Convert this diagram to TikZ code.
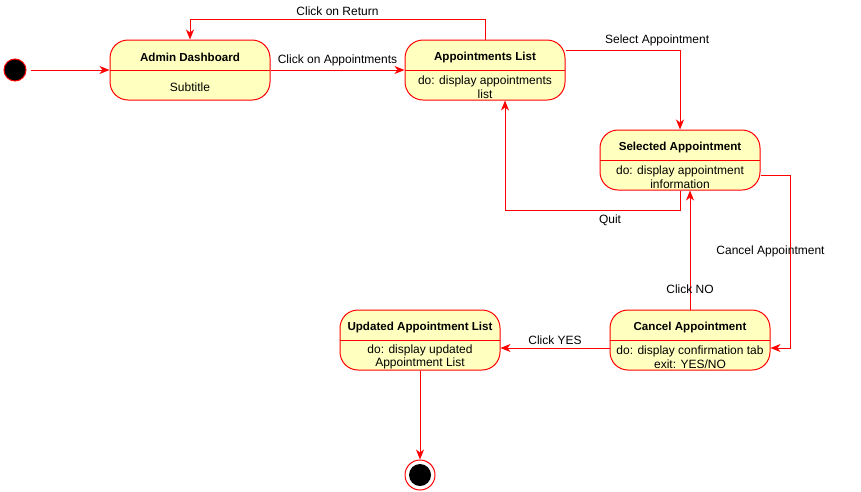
\documentclass[tikz,border=0pt]{standalone}
\usepackage{fontspec}
\setmainfont{Liberation Sans}
\usepackage{tikz}
\usetikzlibrary{arrows.meta}
\usetikzlibrary{positioning}
\definecolor{statefill}{HTML}{FFFFC0}
\definecolor{statered}{HTML}{FF0000}
% title in the upper half, activity in the lower half
\newcommand{\statetext}[2]{\vbox{\offinterlineskip
  \hbox{\parbox[c][30pt][c]{156pt}{\vspace*{4pt}\centering\fontsize{11.6}{13}\selectfont\bfseries #1}}
  \hbox{\parbox[c][30pt][c]{156pt}{\vspace*{4pt}\centering #2}}}}
\tikzset{
    state/.style={
           rectangle,
           rounded corners=18pt,
           draw=statered, line width=1pt,
           fill=statefill,
           minimum width=160pt,
           minimum height=60pt,
           inner sep=0pt,
           text centered,
           path picture={\draw[-,statered,line width=1pt]
             (path picture bounding box.west) -- (path picture bounding box.east);},
           },
    initial/.style={
           circle, fill=black, draw=statered, line width=1pt,
           minimum size=22pt, inner sep=0pt,
           },
    final/.style={
           circle, fill=white, draw=statered, line width=1pt,
           minimum size=30pt, inner sep=0pt,
           path picture={\fill[black] (path picture bounding box.center) circle (11pt);},
           },
    trans/.style={draw=statered, line width=1pt},
}

\begin{document}
\begin{tikzpicture}[->,>={Stealth[length=10pt,width=8pt,inset=3pt]},x=1pt,y=-1pt,
  font=\fontsize{12}{13.5}\selectfont]

 \useasboundingbox (0,0) rectangle (861,491);

 \node[initial] (Start) at (15,70) {};

 \node[state,
  right of=Start,
  node distance=175pt,
  anchor=center] (Admin)
  {\statetext{Admin Dashboard}{Subtitle}};

 \node[state,
  right of=Admin,
  node distance=295pt,
  anchor=center] (List)
  {\statetext{Appointments List}{do: display appointments\\list}};

 \node[state,
  yshift=-90pt,
  right of=List,
  node distance=195pt,
  anchor=center] (Selected)
  {\statetext{Selected Appointment}{do: display appointment\\information}};

 \node[state,
  xshift=10pt,
  below of=Selected,
  node distance=180pt,
  anchor=center] (Cancel)
  {\statetext{Cancel Appointment}{do: display confirmation tab\\exit: YES/NO}};

 \node[state,
  left of=Cancel,
  node distance=270pt,
  anchor=center] (Updated)
  {\statetext{Updated Appointment List}{do: display updated\\Appointment List}};

 \node[final,
  below of=Updated,
  node distance=135pt] (End) {};

 % straight transitions
 \path[every edge/.append style={trans}]
 (Start)    edge[shorten <=4pt] (Admin)
 (Admin)    edge node[above]{Click on Appointments} (List)
 ([yshift=-8pt]Cancel.west) edge node[above]{Click YES} ([yshift=-8pt]Updated.east)
 (Cancel.north) edge node[pos=0.17]{Click NO} ([xshift=10pt]Selected.south)
 (Updated)  edge (End);

 % transitions with corners
 \draw[trans] (List.north) -- ++(0,-20)
   -| node[pos=0.25,above]{Click on Return} (Admin.north);
 \draw[trans] ([yshift=20pt]List.east)
   -| node[pos=0.4,above]{Select Appointment} (Selected.north);
 \draw[trans] (Selected.south) -- ++(0,20)
   -| node[pos=0.2,below]{Quit} ([xshift=20pt]List.south);
 \draw[trans] ([yshift=-15pt]Selected.east) -- ++(30,0)
   |- node[pos=0.22,xshift=-20pt]{Cancel Appointment} ([yshift=-8pt]Cancel.east);

\end{tikzpicture}
\end{document}
